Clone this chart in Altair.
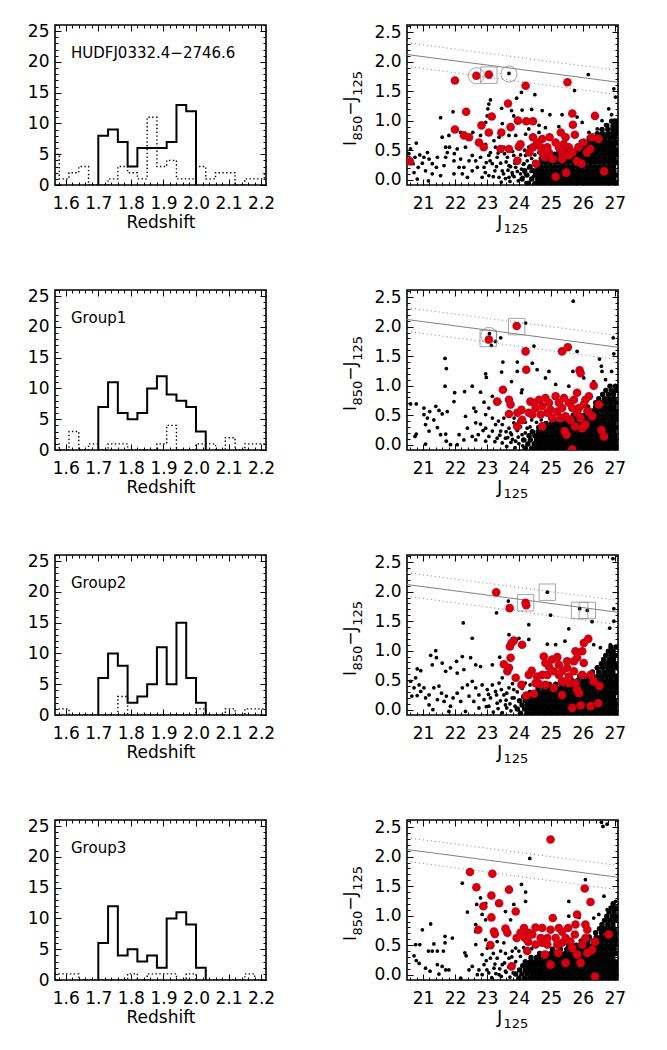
import altair as alt
import pandas as pd

FONT = "DejaVu Sans"
RED = "#d40012"
GRAY = "#808080"
PW, PH = 211, 160

# ---------------- histogram values ----------------
panel_labels = ["HUDFJ0332.4\u22122746.6", "Group1", "Group2", "Group3"]
bin_width = 0.03
solid_start = 1.70
dotted_start = 1.55
solid_1 = [8, 9, 7, 3, 6, 6, 6, 7, 13, 12]
solid_2 = [7, 11, 6, 5, 6, 10, 12, 9, 8, 7, 3]
solid_3 = [6, 10, 8, 2, 3, 5, 11, 5, 15, 6, 2]
solid_4 = [6, 12, 4, 5, 3, 4, 2, 10, 11, 9, 2]
dotted_1 = [5, 1, 2, 3, 0, 0, 1, 3, 2, 1, 11, 3, 4, 1, 1, 3, 1, 2, 2, 0, 1, 1, 2]
dotted_2 = [1, 0, 3, 0, 1, 0, 1, 1, 0, 0, 0, 1, 4, 0, 0, 1, 1, 0, 2, 0, 1, 1, 1]
dotted_3 = [1, 1, 0, 0, 0, 0, 0, 3, 0, 0, 0, 0, 0, 0, 0, 1, 0, 0, 1, 0, 1, 1, 1]
dotted_4 = [1, 1, 1, 0, 0, 0, 0, 0, 1, 0, 1, 1, 1, 0, 1, 0, 0, 0, 0, 0, 1, 0, 0]
redshift_ticks = [1.6, 1.7, 1.8, 1.9, 2.0, 2.1, 2.2]
count_ticks = [0, 5, 10, 15, 20, 25]
Z_DOM = [1.567, 2.215]
N_DOM = [0, 26]

# ---------------- colour-magnitude values ----------------
J_DOM = [20.5, 27.1]
C_DOM = [-0.09, 2.62]
mag_ticks = [21, 22, 23, 24, 25, 26, 27]
colour_ticks = [0.0, 0.5, 1.0, 1.5, 2.0, 2.5]
relation_J = [20.5, 27.1]
relation_c = [2.12, 1.65]
upper_c = [2.32, 1.85]
lower_c = [1.92, 1.44]
# axis titles, split into main text and subscript pieces
x_title_parts = [("J", False), ("125", True)]
y_title_parts = [("I", False), ("850", True), ("\u2212J", False), ("125", True)]

red_1 = [(20.59, 0.31), (22.0, 1.68), (22.67, 1.76), (23.06, 1.78), (25.52, 1.65), (24.21, 1.59),
         (23.66, 1.29), (22.35, 1.15), (23.15, 1.07), (22.0, 0.85), (22.28, 0.75), (22.44, 0.72),
         (22.83, 0.92), (23.06, 0.80), (22.75, 0.63), (22.9, 0.55), (23.45, 0.80), (23.74, 0.89),
         (23.97, 1.0), (24.23, 0.99), (24.44, 0.99), (25.67, 1.12), (25.69, 0.93), (25.75, 0.76),
         (26.38, 1.08), (23.43, 0.52), (23.69, 0.52), (24.0, 0.56), (23.95, 0.32), (24.54, 0.27),
         (25.15, 0.05), (25.48, 0.12), (26.67, 0.14), (25.96, 0.27), (25.82, 0.31), (24.81, 0.38),
         (25.06, 0.35), (25.35, 0.35), (25.56, 0.41), (26.13, 0.46), (26.23, 0.52), (26.02, 0.63),
         (26.28, 0.72), (26.49, 0.69), (24.44, 0.72), (24.73, 0.69), (24.96, 0.72), (25.31, 0.80),
         (25.46, 0.72), (24.44, 0.55), (24.68, 0.55), (24.89, 0.55), (25.25, 0.55), (25.56, 0.55),
         (24.33, 0.46), (24.94, 0.46), (25.35, 0.46), (25.67, 0.46), (24.05, 0.60), (25.15, 0.63),
         (25.4, 0.60), (24.73, 0.46), (24.57, 0.63), (25.86, 0.55)]
red_2 = [(23.06, 1.78), (23.93, 2.01), (24.21, 1.58), (24.23, 1.27), (25.35, 1.58), (25.53, 1.65),
         (25.9, 1.26), (25.93, 1.21), (26.34, 1.0), (23.5, 0.93), (23.32, 0.73), (23.69, 0.76),
         (23.74, 0.68), (23.69, 0.52), (23.95, 0.54), (24.08, 0.59), (23.95, 0.31), (24.1, 0.42),
         (24.36, 0.73), (24.52, 0.62), (24.63, 0.76), (24.73, 0.65), (24.83, 0.79), (24.94, 0.71),
         (24.99, 0.59), (25.15, 0.82), (25.25, 0.71), (25.35, 0.62), (25.41, 0.79), (25.46, 0.48),
         (25.56, 0.71), (25.67, 0.62), (25.72, 0.76), (25.82, 0.88), (25.88, 0.62), (25.93, 0.45),
         (26.03, 0.68), (26.08, 0.76), (26.17, 0.56), (26.19, 0.82), (26.29, 0.48), (26.5, 0.68),
         (26.58, 0.25), (26.66, 0.14), (24.73, 0.31), (25.43, 0.23), (25.49, 0.17), (25.75, 0.31),
         (25.98, 0.28), (25.67, -0.08), (24.42, 0.51), (24.68, 0.51), (25.04, 0.45), (25.3, 0.45),
         (25.61, 0.42), (24.89, 0.54), (25.2, 0.56), (24.31, 0.54), (24.47, 0.71), (25.82, 0.54),
         (26.08, 0.34)]
red_3 = [(23.29, 1.99), (23.71, 1.72), (24.21, 1.81), (24.23, 1.77), (23.77, 1.13), (23.84, 1.17),
         (23.72, 1.07), (24.1, 1.1), (23.74, 0.88), (23.53, 0.77), (23.69, 0.71), (23.64, 0.65),
         (23.9, 0.54), (24.08, 0.42), (24.23, 0.24), (24.47, 0.27), (24.31, 0.59), (24.4, 0.66),
         (24.57, 0.56), (24.63, 0.44), (24.78, 0.9), (24.83, 0.79), (24.73, 0.59), (24.94, 0.73),
         (25.04, 0.85), (25.2, 0.89), (25.25, 0.76), (25.35, 0.65), (25.09, 0.65), (24.83, 0.42),
         (25.09, 0.37), (25.35, 0.25), (25.51, 0.71), (25.56, 0.56), (25.72, 0.82), (25.77, 0.99),
         (25.82, 0.88), (25.72, 0.65), (25.77, 0.45), (25.82, 0.34), (25.88, 0.28), (25.98, 0.99),
         (26.03, 1.13), (26.17, 1.2), (26.03, 0.79), (25.98, 0.59), (26.24, 0.59), (26.34, 0.48),
         (26.52, 0.4), (25.67, 0.03), (25.93, 0.07), (26.24, 0.06), (26.48, 0.11), (25.56, 0.45),
         (25.35, 0.48), (24.89, 0.59), (25.25, 0.59), (25.51, 0.82), (24.52, 0.45)]
red_4 = [(24.99, 2.29), (22.47, 1.74), (23.17, 1.71), (22.67, 1.48), (23.14, 1.34), (23.69, 1.44),
         (23.38, 1.21), (22.89, 1.16), (23.9, 1.07), (23.14, 0.97), (22.73, 0.76), (23.22, 0.73),
         (23.25, 0.69), (23.11, 0.5), (23.58, 0.78), (23.64, 0.71), (23.77, 0.14), (23.93, 0.62),
         (24.05, 0.71), (24.16, 0.79), (24.29, 0.56), (24.26, 0.4), (24.42, 0.68), (24.52, 0.8),
         (24.68, 0.62), (24.73, 0.79), (24.81, 0.34), (24.89, 0.51), (24.99, 0.76), (25.06, 0.96),
         (25.15, 0.62), (25.25, 0.79), (25.23, 0.37), (24.99, 0.17), (25.35, 0.54), (25.46, 0.2),
         (25.54, 0.79), (25.61, 0.56), (25.75, 0.68), (25.82, 1.02), (25.77, 0.85), (25.82, 0.34),
         (25.93, 0.2), (26.06, 1.46), (26.24, 1.23), (26.08, 0.85), (26.14, 0.76), (26.08, 0.62),
         (26.14, 0.37), (26.29, 0.42), (26.38, 0.56), (26.38, -0.03), (26.81, 0.68), (24.19, 0.62),
         (24.52, 0.51), (24.73, 0.54), (25.35, 0.73), (25.46, 0.62), (25.67, 0.45), (25.98, 0.51),
         (24.31, 0.71), (24.89, 0.62), (25.2, 0.51)]

black_1 = [(26.17, 1.78), (23.69, 1.80), (25.74, 1.51), (26.97, 1.54), (27.02, 1.40), (24.08, 1.48),
           (23.93, 1.38), (24.5, 1.44), (23.11, 1.35), (23.06, 1.28), (23.03, 1.20), (23.46, 1.21),
           (23.77, 1.17), (24.1, 1.18), (24.4, 1.19), (21.55, 1.05), (21.94, 1.15), (23.01, 1.08),
           (22.96, 0.97), (23.48, 0.95), (23.84, 1.08), (24.73, 1.17), (24.97, 1.1), (25.35, 1.1),
           (25.82, 1.06), (26.81, 1.2), (26.9, 1.1), (26.99, 1.01), (26.6, 1.0), (26.71, 0.93),
           (26.92, 0.89), (26.45, 0.86), (26.19, 0.8), (25.98, 0.97), (25.25, 0.9), (24.83, 0.88),
           (24.63, 0.92), (24.31, 0.86), (24.21, 0.77), (24.63, 0.8), (23.9, 0.75), (23.69, 0.75),
           (23.38, 0.72), (23.22, 0.66), (23.01, 0.77), (22.8, 0.75), (22.56, 0.8), (22.18, 0.8),
           (21.81, 0.75), (21.6, 0.72), (20.79, 0.62), (20.61, 0.52), (20.56, 0.44), (20.75, 0.38),
           (20.9, 0.42), (21.03, 0.38), (21.14, 0.46), (21.19, 0.35), (20.98, 0.28), (20.85, 0.21),
           (20.72, 0.12), (20.69, 0.27), (21.08, 0.15), (21.29, 0.1), (21.42, 0.21), (21.17, -0.02),
           (21.55, 0.07), (21.66, 0.24), (21.71, 0.38), (21.76, 0.46), (21.83, 0.55), (21.71, 0.55),
           (21.98, 0.44), (22.07, 0.52), (21.97, 0.32), (22.13, 0.21), (22.23, 0.1), (21.97, 0.1),
           (22.33, 0.55), (22.44, 0.32), (22.54, 0.41), (22.65, 0.32), (22.8, 0.38), (22.7, 0.21),
           (22.54, 0.15), (22.39, 0.04), (22.91, 0.21), (22.98, 0.29), (23.06, 0.41), (23.17, 0.27),
           (23.25, 0.15), (23.32, 0.38), (23.43, 0.28), (23.48, 0.15), (23.06, 0.07), (22.85, 0.04),
           (23.64, 0.38), (23.69, 0.24), (23.84, 0.41), (23.79, 0.12), (23.9, 0.21), (24.05, 0.1),
           (23.69, 0.04), (23.38, 0.04), (24.16, 0.27), (24.21, 0.41), (24.31, 0.55), (23.53, 0.55),
           (23.27, 0.55), (22.96, 0.6), (23.11, 0.46), (22.18, 0.35), (22.28, 0.21), (21.45, 0.38),
           (20.82, 0.01), (21.29, 0.27),
           (23.45, -0.04), (23.58, 0.02), (23.72, -0.03), (23.85, 0.05), (23.98, -0.02), (24.12, 0.04),
           (24.22, -0.05), (23.52, 0.1), (23.66, 0.16), (23.8, 0.08), (23.95, 0.14), (24.08, 0.18),
           (24.2, 0.1), (24.3, 0.2), (23.6, 0.3), (23.74, 0.22), (23.88, 0.28), (24.02, 0.34),
           (24.14, 0.26), (24.26, 0.32), (24.4, 0.36), (23.55, 0.44), (23.8, 0.48), (24.05, 0.42),
           (24.18, 0.5), (24.5, 0.42), (24.62, 0.46), (23.3, 0.22), (23.2, 0.05), (23.1, 0.32),
           (22.95, 0.12), (23.35, 0.45), (24.45, 0.05), (24.38, 0.14), (24.6, 0.22)]
black_2 = [(25.7, 2.43), (24.21, 2.06), (26.95, 1.81), (26.97, 1.54), (23.08, 1.88), (23.27, 1.75),
           (23.43, 1.81), (23.14, 1.68), (24.47, 1.67), (25.82, 1.58), (26.52, 1.45), (26.58, 1.33),
           (23.95, 1.4), (23.5, 1.4), (22.96, 1.2), (22.98, 1.14), (23.46, 1.23), (23.95, 1.24),
           (24.42, 1.38), (24.57, 1.27), (24.94, 1.24), (25.69, 1.24), (26.03, 1.13), (26.6, 1.24),
           (26.9, 1.24), (23.77, 1.07), (24.1, 0.93), (24.08, 0.88), (24.83, 1.13), (25.15, 1.02),
           (25.56, 0.99), (26.34, 1.07), (26.71, 1.1), (21.69, 1.46), (21.73, 1.29), (21.69, 0.99),
           (22.54, 0.99), (22.3, 0.9), (21.99, 0.88), (21.97, 0.73), (22.8, 0.89), (23.17, 0.82),
           (22.91, 0.72), (23.4, 0.72), (20.61, 0.69), (20.79, 0.69), (21.03, 0.62), (21.21, 0.56),
           (21.4, 0.65), (21.5, 0.58), (21.6, 0.52), (21.76, 0.56), (21.14, 0.45), (21.34, 0.42),
           (21.03, 0.51), (21.08, 0.34), (20.79, 0.18), (20.75, 0.14), (21.19, 0.23), (21.45, 0.29),
           (21.55, 0.17), (21.71, 0.18), (21.73, 0.06), (21.86, 0.0), (22.07, 0.0), (21.08, 0.01),
           (22.13, 0.17), (22.28, 0.08), (22.33, 0.48), (22.59, 0.62), (22.65, 0.56), (22.65, 0.37),
           (22.8, 0.35), (22.88, 0.24), (22.96, 0.28), (22.73, 0.17), (22.65, 0.08), (22.54, 0.14),
           (23.06, 0.14), (23.17, 0.23), (23.27, 0.34), (23.32, 0.11), (23.43, 0.23), (23.48, 0.34),
           (23.53, 0.45), (23.58, 0.11), (23.17, 0.45), (22.96, 0.51), (23.06, 0.62), (23.69, 0.28),
           (23.77, 0.17), (23.84, 0.37), (23.9, 0.06), (24.1, 0.17), (24.26, 0.28), (23.48, 0.03),
           (22.96, 0.06), (22.39, 0.28),
           (23.62, -0.03), (23.75, 0.04), (23.88, -0.05), (24.0, 0.02), (24.12, -0.02), (23.65, 0.12),
           (23.8, 0.09), (23.98, 0.13), (24.18, 0.08), (23.6, 0.22), (23.74, 0.2), (23.95, 0.24),
           (24.05, 0.3), (24.2, 0.2), (24.35, 0.3), (23.85, 0.45), (24.0, 0.4), (24.2, 0.38),
           (24.4, 0.42), (24.55, 0.38), (24.7, 0.42), (23.4, 0.16), (23.25, 0.05), (23.36, 0.4)]
black_3 = [(26.94, 2.56), (24.89, 1.99), (23.67, 1.84), (23.3, 1.64), (24.99, 1.6), (25.9, 1.71),
           (26.14, 1.68), (26.29, 1.49), (26.97, 1.71), (26.97, 1.5), (24.31, 1.44), (25.56, 1.37),
           (26.84, 1.38), (22.26, 1.47), (22.54, 1.21), (23.69, 1.27), (24.0, 1.21), (24.31, 1.19),
           (24.89, 1.11), (25.15, 1.1), (25.44, 1.16), (26.34, 1.1), (26.55, 1.05), (26.86, 1.1),
           (21.4, 1.0), (21.42, 0.88), (21.24, 0.92), (22.23, 0.9), (22.05, 0.82), (22.49, 0.88),
           (22.65, 0.76), (22.8, 0.73), (23.17, 0.76), (23.4, 0.89), (20.82, 0.69), (20.93, 0.66),
           (21.29, 0.76), (21.6, 0.79), (21.71, 0.65), (21.86, 0.71), (22.07, 0.62), (22.28, 0.68),
           (20.77, 0.54), (20.61, 0.48), (20.72, 0.37), (20.88, 0.42), (21.03, 0.37), (20.65, 0.23),
           (20.82, 0.24), (20.93, 0.31), (21.08, 0.2), (21.19, 0.25), (21.34, 0.37), (21.5, 0.4),
           (21.58, 0.28), (21.73, 0.23), (21.19, 0.08), (21.31, 0.0), (21.45, 0.17), (21.66, 0.14),
           (21.86, 0.06), (21.81, -0.03), (21.94, 0.2), (22.07, 0.28), (22.23, 0.37), (22.18, 0.14),
           (22.33, -0.03), (22.44, 0.23), (22.39, 0.42), (22.54, 0.48), (22.65, 0.37), (22.75, 0.25),
           (22.59, 0.14), (22.85, 0.42), (23.01, 0.34), (22.91, 0.17), (23.17, 0.42), (23.27, 0.31),
           (23.11, 0.2), (23.38, 0.45), (23.48, 0.54), (23.32, 0.11), (23.53, 0.25), (23.69, 0.37),
           (23.58, 0.08), (23.79, 0.2), (23.84, 0.34), (23.06, 0.06), (22.75, 0.03),
           (23.2, -0.04), (23.35, 0.02), (23.48, -0.05), (23.62, 0.03), (23.75, -0.02), (23.88, 0.06),
           (23.42, 0.15), (23.6, 0.16), (23.72, 0.1), (23.85, 0.2), (23.3, 0.25), (23.45, 0.34),
           (23.62, 0.28), (23.95, 0.3), (24.1, 0.36), (23.8, 0.44), (24.2, 0.45), (24.35, 0.42),
           (24.5, 0.48), (23.05, 0.26), (22.98, 0.05)]
black_4 = [(24.34, 1.97), (26.08, 1.61), (26.58, 2.58), (26.63, 2.51), (26.76, 2.55), (22.23, 1.55),
           (24.08, 1.53), (24.21, 1.4), (24.21, 1.24), (22.39, 1.06), (22.65, 0.85), (22.68, 1.19),
           (22.8, 1.3), (22.85, 1.02), (22.65, 0.73), (22.96, 1.21), (22.96, 0.93), (23.58, 1.07),
           (23.74, 0.93), (23.84, 1.19), (25.56, 1.24), (25.56, 0.99), (25.88, 0.97), (26.66, 1.33),
           (26.5, 1.02), (27.02, 1.24), (26.97, 1.13), (26.76, 1.1), (26.34, 0.96), (20.98, 0.76),
           (21.24, 0.86), (20.77, 0.51), (20.9, 0.51), (21.17, 0.4), (21.29, 0.4), (21.45, 0.4),
           (21.34, 0.52), (21.69, 0.65), (21.69, 0.54), (21.64, 0.4), (21.92, 0.62), (20.72, 0.32),
           (20.79, 0.24), (20.88, 0.19), (21.08, 0.11), (21.22, 0.06), (21.45, 0.17), (21.6, 0.14),
           (21.5, 0.01), (21.71, 0.08), (21.81, 0.08), (22.31, 0.37), (22.35, 0.32), (22.18, -0.06),
           (22.44, 0.08), (22.54, 0.14), (22.75, 0.08), (22.7, 0.0), (22.91, 0.17), (22.85, 0.34),
           (22.65, 0.51), (22.96, 0.59), (23.01, 0.45), (23.11, 0.28), (23.22, 0.11), (23.32, 0.28),
           (23.43, 0.4), (23.48, 0.17), (23.58, 0.06), (23.69, 0.28), (23.79, 0.4), (23.84, 0.17),
           (23.06, 0.03), (23.38, 0.0), (22.85, 0.0), (23.32, 0.56), (23.53, 0.54), (23.9, 0.45),
           (24.05, 0.31),
           (23.15, -0.05), (23.28, 0.02), (23.45, -0.03), (23.6, 0.04), (23.72, -0.04), (23.82, 0.03),
           (23.25, 0.18), (23.4, 0.1), (23.55, 0.2), (23.68, 0.13), (23.9, 0.22), (23.2, 0.36),
           (23.58, 0.36), (23.78, 0.3), (24.0, 0.4), (24.15, 0.46), (24.4, 0.44), (22.98, 0.24),
           (23.0, 0.08)]

# dense faint-galaxy cloud, read row by row: (colour, [J values])
dense_1 = [
    (-0.06, [24.30, 24.52, 24.66, 24.80, 24.94, 25.08, 25.22, 25.36, 25.50, 25.64, 25.78, 25.92, 26.06, 26.20, 26.34, 26.48, 26.62, 26.76, 26.90, 27.04]),
    (0.01, [24.10, 24.40, 24.59, 24.73, 24.87, 25.01, 25.15, 25.29, 25.43, 25.57, 25.71, 25.85, 25.99, 26.13, 26.27, 26.41, 26.55, 26.69, 26.83, 26.97]),
    (0.08, [24.25, 24.52, 24.66, 24.80, 24.94, 25.08, 25.22, 25.36, 25.50, 25.64, 25.78, 25.92, 26.06, 26.20, 26.34, 26.48, 26.62, 26.76, 26.90, 27.04]),
    (0.15, [24.18, 24.45, 24.59, 24.73, 24.87, 25.01, 25.15, 25.29, 25.43, 25.57, 25.71, 25.85, 25.99, 26.13, 26.27, 26.41, 26.55, 26.69, 26.83, 26.97]),
    (0.22, [24.35, 24.58, 24.72, 24.86, 25.00, 25.14, 25.28, 25.42, 25.56, 25.70, 25.84, 25.98, 26.12, 26.26, 26.40, 26.54, 26.68, 26.82, 26.96]),
    (0.29, [24.50, 24.70, 24.84, 24.98, 25.12, 25.26, 25.40, 25.54, 25.68, 25.82, 25.96, 26.10, 26.24, 26.38, 26.52, 26.66, 26.80, 26.94, 27.05]),
    (0.36, [24.70, 24.88, 25.02, 25.16, 25.30, 25.44, 25.58, 25.72, 25.86, 26.00, 26.14, 26.28, 26.42, 26.56, 26.70, 26.84, 26.98]),
    (0.43, [24.95, 25.12, 25.26, 25.40, 25.54, 25.68, 25.82, 25.96, 26.10, 26.24, 26.38, 26.52, 26.66, 26.80, 26.94, 27.05]),
    (0.50, [25.25, 25.45, 25.62, 25.78, 25.92, 26.06, 26.20, 26.34, 26.48, 26.62, 26.76, 26.90, 27.04]),
    (0.57, [25.55, 25.85, 26.00, 26.14, 26.28, 26.42, 26.56, 26.70, 26.84, 26.98]),
    (0.64, [25.95, 26.15, 26.30, 26.45, 26.60, 26.74, 26.88, 27.02]),
    (0.71, [26.20, 26.40, 26.55, 26.70, 26.85, 26.99]),
    (0.78, [26.45, 26.62, 26.78, 26.92, 27.05]),
    (0.85, [26.60, 26.78, 26.94, 27.05]),
    (0.92, [26.75, 26.95, 27.05]),
    (0.99, [26.90, 27.05]),
]
dense_2 = [
    (-0.06, [24.20, 24.40, 24.55, 24.69, 24.83, 24.97, 25.11, 25.25, 25.39, 25.53, 25.67, 25.81, 25.95, 26.09, 26.23, 26.37, 26.51, 26.65, 26.79, 26.93, 27.05]),
    (0.01, [24.28, 24.48, 24.62, 24.76, 24.90, 25.04, 25.18, 25.32, 25.46, 25.60, 25.74, 25.88, 26.02, 26.16, 26.30, 26.44, 26.58, 26.72, 26.86, 27.00]),
    (0.08, [24.15, 24.36, 24.55, 24.69, 24.83, 24.97, 25.11, 25.25, 25.39, 25.53, 25.67, 25.81, 25.95, 26.09, 26.23, 26.37, 26.51, 26.65, 26.79, 26.93, 27.05]),
    (0.15, [24.32, 24.50, 24.62, 24.76, 24.90, 25.04, 25.18, 25.32, 25.46, 25.60, 25.74, 25.88, 26.02, 26.16, 26.30, 26.44, 26.58, 26.72, 26.86, 27.00]),
    (0.22, [24.42, 24.60, 24.74, 24.88, 25.02, 25.16, 25.30, 25.44, 25.58, 25.72, 25.86, 26.00, 26.14, 26.28, 26.42, 26.56, 26.70, 26.84, 26.98]),
    (0.29, [24.62, 24.80, 24.95, 25.09, 25.23, 25.37, 25.51, 25.65, 25.79, 25.93, 26.07, 26.21, 26.35, 26.49, 26.63, 26.77, 26.91, 27.05]),
    (0.36, [24.85, 25.02, 25.16, 25.30, 25.44, 25.58, 25.72, 25.86, 26.00, 26.14, 26.28, 26.42, 26.56, 26.70, 26.84, 26.98]),
    (0.43, [25.10, 25.30, 25.47, 25.62, 25.78, 25.93, 26.07, 26.21, 26.35, 26.49, 26.63, 26.77, 26.91, 27.05]),
    (0.50, [25.45, 25.70, 25.90, 26.05, 26.20, 26.34, 26.48, 26.62, 26.76, 26.90, 27.03]),
    (0.57, [25.85, 26.10, 26.30, 26.45, 26.60, 26.74, 26.88, 27.02]),
    (0.64, [26.15, 26.40, 26.56, 26.70, 26.84, 26.98]),
    (0.71, [26.40, 26.58, 26.74, 26.88, 27.03]),
    (0.78, [26.50, 26.68, 26.84, 26.98]),
    (0.85, [26.62, 26.80, 26.96]),
    (0.92, [26.72, 26.90, 27.05]),
    (0.99, [26.85, 27.02]),
]
dense_3 = [
    (-0.06, [24.05, 24.25, 24.40, 24.54, 24.68, 24.82, 24.96, 25.10, 25.24, 25.38, 25.52, 25.66, 25.80, 25.94, 26.08, 26.22, 26.36, 26.50, 26.64, 26.78, 26.92, 27.05]),
    (0.01, [23.95, 24.18, 24.33, 24.47, 24.61, 24.75, 24.89, 25.03, 25.17, 25.31, 25.45, 25.59, 25.73, 25.87, 26.01, 26.15, 26.29, 26.43, 26.57, 26.71, 26.85, 26.99]),
    (0.08, [24.10, 24.26, 24.40, 24.54, 24.68, 24.82, 24.96, 25.10, 25.24, 25.38, 25.52, 25.66, 25.80, 25.94, 26.08, 26.22, 26.36, 26.50, 26.64, 26.78, 26.92, 27.05]),
    (0.15, [24.02, 24.20, 24.33, 24.47, 24.61, 24.75, 24.89, 25.03, 25.17, 25.31, 25.45, 25.59, 25.73, 25.87, 26.01, 26.15, 26.29, 26.43, 26.57, 26.71, 26.85, 26.99]),
    (0.22, [24.15, 24.30, 24.44, 24.58, 24.72, 24.86, 25.00, 25.14, 25.28, 25.42, 25.56, 25.70, 25.84, 25.98, 26.12, 26.26, 26.40, 26.54, 26.68, 26.82, 26.96]),
    (0.29, [24.35, 24.52, 24.66, 24.80, 24.94, 25.08, 25.22, 25.36, 25.50, 25.64, 25.78, 25.92, 26.06, 26.20, 26.34, 26.48, 26.62, 26.76, 26.90, 27.04]),
    (0.36, [24.60, 24.78, 24.92, 25.06, 25.20, 25.34, 25.48, 25.62, 25.76, 25.90, 26.04, 26.18, 26.32, 26.46, 26.60, 26.74, 26.88, 27.02]),
    (0.43, [24.95, 25.15, 25.32, 25.48, 25.64, 25.80, 25.95, 26.10, 26.24, 26.38, 26.52, 26.66, 26.80, 26.94, 27.05]),
    (0.50, [25.40, 25.65, 25.85, 26.02, 26.18, 26.32, 26.46, 26.60, 26.74, 26.88, 27.02]),
    (0.57, [25.90, 26.15, 26.32, 26.48, 26.62, 26.76, 26.90, 27.04]),
    (0.64, [26.30, 26.50, 26.66, 26.80, 26.94]),
    (0.71, [26.45, 26.62, 26.78, 26.92, 27.05]),
    (0.78, [26.58, 26.74, 26.88, 27.02]),
    (0.85, [26.65, 26.82, 26.96]),
    (0.92, [26.72, 26.88, 27.03]),
    (0.99, [26.80, 26.95]),
    (1.06, [26.88, 27.04]),
]
dense_4 = [
    (-0.06, [24.00, 24.18, 24.34, 24.48, 24.62, 24.76, 24.90, 25.04, 25.18, 25.32, 25.46, 25.60, 25.74, 25.88, 26.02, 26.16, 26.30, 26.44, 26.58, 26.72, 26.86, 27.00]),
    (0.01, [23.90, 24.10, 24.26, 24.41, 24.55, 24.69, 24.83, 24.97, 25.11, 25.25, 25.39, 25.53, 25.67, 25.81, 25.95, 26.09, 26.23, 26.37, 26.51, 26.65, 26.79, 26.93, 27.05]),
    (0.08, [24.02, 24.20, 24.34, 24.48, 24.62, 24.76, 24.90, 25.04, 25.18, 25.32, 25.46, 25.60, 25.74, 25.88, 26.02, 26.16, 26.30, 26.44, 26.58, 26.72, 26.86, 27.00]),
    (0.15, [24.12, 24.27, 24.41, 24.55, 24.69, 24.83, 24.97, 25.11, 25.25, 25.39, 25.53, 25.67, 25.81, 25.95, 26.09, 26.23, 26.37, 26.51, 26.65, 26.79, 26.93, 27.05]),
    (0.22, [24.20, 24.36, 24.50, 24.64, 24.78, 24.92, 25.06, 25.20, 25.34, 25.48, 25.62, 25.76, 25.90, 26.04, 26.18, 26.32, 26.46, 26.60, 26.74, 26.88, 27.02]),
    (0.29, [24.38, 24.55, 24.70, 24.84, 24.98, 25.12, 25.26, 25.40, 25.54, 25.68, 25.82, 25.96, 26.10, 26.24, 26.38, 26.52, 26.66, 26.80, 26.94]),
    (0.36, [24.65, 24.85, 25.00, 25.15, 25.30, 25.45, 25.60, 25.75, 25.90, 26.04, 26.18, 26.32, 26.46, 26.60, 26.74, 26.88, 27.02]),
    (0.43, [25.05, 25.30, 25.50, 25.68, 25.85, 26.00, 26.14, 26.28, 26.42, 26.56, 26.70, 26.84, 26.98]),
    (0.50, [25.55, 25.80, 26.00, 26.16, 26.31, 26.45, 26.59, 26.73, 26.87, 27.01]),
    (0.57, [25.95, 26.15, 26.32, 26.48, 26.62, 26.76, 26.90, 27.04]),
    (0.64, [26.20, 26.42, 26.58, 26.72, 26.86, 27.00]),
    (0.71, [26.40, 26.58, 26.74, 26.88, 27.02]),
    (0.78, [26.52, 26.68, 26.84, 26.98]),
    (0.85, [26.60, 26.78, 26.94]),
    (0.92, [26.68, 26.84, 27.00]),
    (0.99, [26.75, 26.92, 27.05]),
    (1.06, [26.82, 26.98]),
    (1.13, [26.88, 27.04]),
    (1.20, [26.95]),
]

circles_1 = [(22.67, 1.76), (23.69, 1.79)]
squares_1 = [(23.06, 1.77)]
circles_2 = [(23.06, 1.85)]
squares_2 = [(23.04, 1.80), (23.93, 2.0)]
circles_3 = []
squares_3 = [(24.21, 1.81), (24.89, 1.99), (25.9, 1.68), (26.14, 1.68)]
circles_4 = []
squares_4 = []

# ---------------- helpers ----------------
def pts(pairs):
    return pd.DataFrame(pairs, columns=["J", "c"]) if pairs else pd.DataFrame({"J": [], "c": []})


def dense_pts(rows):
    return [(j, c) for c, js in rows for j in js]


def step_table(start, counts):
    rows = [(start, 0)]
    for i, n in enumerate(counts):
        lo = start + i * bin_width
        rows += [(lo, n), (lo + bin_width, n)]
    rows.append((start + len(counts) * bin_width, 0))
    return pd.DataFrame([{"z": z, "n": n, "k": k} for k, (z, n) in enumerate(rows)])


def frange(a, b, step):
    out, v = [], a
    while v <= b + 1e-9:
        out.append(round(v, 3))
        v += step
    return out


def axis(orient, values, size, labels=False, fmt=None, title=None, title_pad=None):
    kw = dict(orient=orient, values=values, tickSize=size, offset=-size, labels=labels,
              domain=False, grid=False, ticks=True, title=title)
    if labels:
        kw["format"] = fmt
        kw["labelPadding"] = 10 if orient == "bottom" else 6
    if title_pad is not None:
        kw["titlePadding"] = title_pad
    return alt.Axis(**kw)


def frame_layers(xdom, ydom, xmaj, ymaj, xmin, ymin, xfmt, yfmt, xtitle):
    anchor = pd.DataFrame({"u": [xdom[0]], "v": [ydom[0]]})
    xs = alt.Scale(domain=xdom, nice=False, zero=False)
    ys = alt.Scale(domain=ydom, nice=False, zero=False)
    specs = [
        (axis("bottom", xmaj, 6, True, xfmt, xtitle, 3), axis("left", ymaj, 6, True, yfmt, None)),
        (axis("top", xmaj, 6), axis("right", ymaj, 6)),
        (axis("bottom", xmin, 3), axis("left", ymin, 3)),
        (axis("top", xmin, 3), axis("right", ymin, 3)),
    ]
    return [
        alt.Chart(anchor).mark_point(opacity=0).encode(
            x=alt.X("u:Q", scale=xs, axis=a), y=alt.Y("v:Q", scale=ys, axis=b))
        for a, b in specs
    ]


def title_layers(parts, x0, y0, angle, big=17, small=12, drop=5):
    """Axis title made of text pieces; subscript pieces are smaller and lowered."""
    out, pos = [], 0.0
    for text, sub in parts:
        size = small if sub else big
        shift = drop if sub else 0
        if angle == 0:
            x, y = x0 + pos, y0 + shift
        else:  # rotated to read bottom-to-top
            x, y = x0 + shift, y0 - pos
        props = dict(align="left", baseline="alphabetic", font=FONT, fontSize=size, color="black")
        if angle:
            props["angle"] = angle
        out.append(alt.Chart(pd.DataFrame({"t": [text]})).mark_text(**props).encode(
            text="t:N", x=alt.value(x), y=alt.value(y)))
        width = {"J": 0.36, "I": 0.32, "\u2212J": 1.18}.get(text, 0.636 * len(text))
        pos += width * size
    return out


def hist_panel(label, solid, dotted):
    xs = alt.Scale(domain=Z_DOM, nice=False, zero=False)
    ys = alt.Scale(domain=N_DOM, nice=False, zero=False)
    frames = frame_layers(Z_DOM, N_DOM, redshift_ticks, count_ticks,
                          frange(1.58, 2.2, 0.02), frange(0, 26, 1), ".1f", "d", "Redshift")
    dot = alt.Chart(step_table(dotted_start, dotted)).mark_line(
        color="black", strokeWidth=1.4, strokeDash=[1.4, 2.4], clip=True).encode(
        x=alt.X("z:Q", scale=xs, axis=None), y=alt.Y("n:Q", scale=ys, axis=None), order="k:Q")
    sol = alt.Chart(step_table(solid_start, solid)).mark_line(
        color="black", strokeWidth=2, clip=True).encode(
        x=alt.X("z:Q", scale=xs, axis=None), y=alt.Y("n:Q", scale=ys, axis=None), order="k:Q")
    txt = alt.Chart(pd.DataFrame({"t": [label]})).mark_text(
        align="left", baseline="middle", font=FONT, fontSize=15, color="black").encode(
        text="t:N", x=alt.value(16), y=alt.value(28))
    return alt.layer(*frames, dot, sol, txt).resolve_axis(
        x="independent", y="independent").properties(width=PW, height=PH)


def scatter_panel(black, dense, red, circles, squares):
    xs = alt.Scale(domain=J_DOM, nice=False, zero=False)
    ys = alt.Scale(domain=C_DOM, nice=False, zero=False)
    X = lambda f: alt.X(f + ":Q", scale=xs, axis=None)
    Y = lambda f: alt.Y(f + ":Q", scale=ys, axis=None)
    frames = frame_layers(J_DOM, C_DOM, mag_ticks, colour_ticks,
                          frange(20.6, 27.0, 0.2), frange(0.0, 2.6, 0.1), "d", ".1f", None)
    rel = pd.DataFrame({"J": relation_J, "mid": relation_c, "up": upper_c, "lo": lower_c})
    mid = alt.Chart(rel).mark_line(color=GRAY, strokeWidth=1, clip=True).encode(x=X("J"), y=Y("mid"))
    up = alt.Chart(rel).mark_line(color=GRAY, strokeWidth=1, strokeDash=[1, 3], clip=True).encode(x=X("J"), y=Y("up"))
    lo = alt.Chart(rel).mark_line(color=GRAY, strokeWidth=1, strokeDash=[1, 3], clip=True).encode(x=X("J"), y=Y("lo"))
    cloud = alt.Chart(pts(dense_pts(dense))).mark_circle(
        size=30, color="black", opacity=1, clip=True).encode(x=X("J"), y=Y("c"))
    blk = alt.Chart(pts(black)).mark_circle(
        size=14, color="black", opacity=1, clip=True).encode(x=X("J"), y=Y("c"))
    rd = alt.Chart(pts(red)).mark_circle(size=74, color=RED, opacity=1, clip=True).encode(x=X("J"), y=Y("c"))
    layers = [*frames, mid, up, lo, cloud, blk, rd]
    if circles:
        layers.append(alt.Chart(pts(circles)).mark_point(
            shape="circle", filled=False, size=260, color=GRAY, strokeWidth=1, clip=True).encode(x=X("J"), y=Y("c")))
    if squares:
        layers.append(alt.Chart(pts(squares)).mark_point(
            shape="square", filled=False, size=270, color=GRAY, strokeWidth=1, clip=True).encode(x=X("J"), y=Y("c")))
    layers += title_layers(x_title_parts, 90, 203, 0, big=18, small=13, drop=5)
    layers += title_layers(y_title_parts, -51, 121, 270, big=17, small=13, drop=6)
    return alt.layer(*layers).resolve_axis(
        x="independent", y="independent").properties(width=PW, height=PH)


solids = [solid_1, solid_2, solid_3, solid_4]
dotteds = [dotted_1, dotted_2, dotted_3, dotted_4]
reds = [red_1, red_2, red_3, red_4]
blacks = [black_1, black_2, black_3, black_4]
denses = [dense_1, dense_2, dense_3, dense_4]
circs = [circles_1, circles_2, circles_3, circles_4]
squs = [squares_1, squares_2, squares_3, squares_4]

panels = []
for i in range(4):
    panels.append(hist_panel(panel_labels[i], solids[i], dotteds[i]))
    panels.append(scatter_panel(blacks[i], denses[i], reds[i], circs[i], squs[i]))

chart = alt.concat(
    *panels, columns=2, spacing={"row": 105, "column": 141}, bounds="flush"
).properties(
    padding={"left": 18, "top": 13, "right": 5, "bottom": 5}
).configure_view(
    stroke="black", strokeWidth=1.6
).configure_axis(
    labelFont=FONT, labelFontSize=17, labelColor="black",
    titleFont=FONT, titleFontSize=17, titleFontWeight="normal", titleColor="black",
    tickColor="black", tickWidth=1, labelFlush=False, labelOverlap=False
)

chart.save("out.html", embed_options={"renderer": "svg", "actions": False})
